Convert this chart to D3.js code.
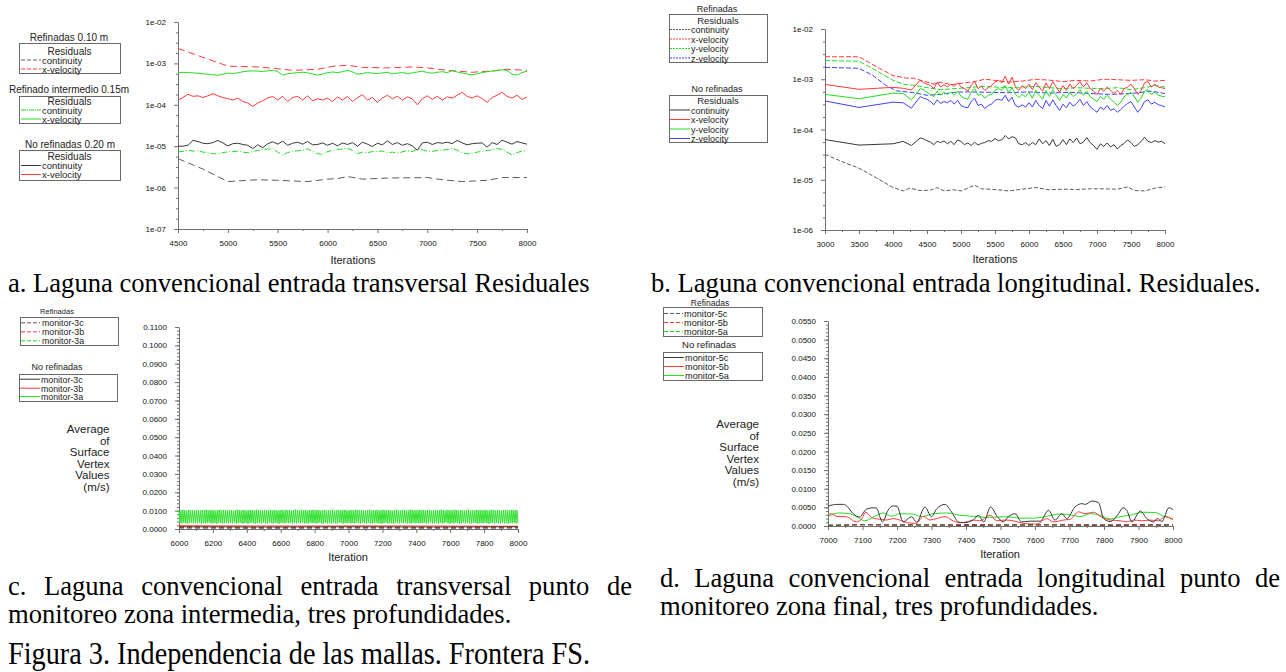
<!DOCTYPE html>
<html>
<head>
<meta charset="utf-8">
<script src="https://cdn.jsdelivr.net/npm/d3@7"></script>
<style>
  body { margin: 0; background: #fff; }
  svg { display: block; }
</style>
</head>
<body>
<svg width="1286" height="672"></svg>
<script>
// ---------------- data ----------------
// panel a : residuals, transversal inlet (log scale), sampled every 50 iterations from 4500
const aStart = 4500, aStep = 50;
const aContNoRef = [ // x1e-5
    1.00,1.00,1.05,1.38,1.30,1.18,1.15,1.22,1.38,1.20,
    1.02,1.15,1.18,1.10,1.05,0.88,1.08,0.92,1.15,1.28,
    1.12,1.32,1.05,1.18,1.25,1.12,1.30,1.08,1.10,1.20,
    1.05,1.18,1.02,1.20,1.10,1.22,1.00,1.25,1.12,0.98,
    1.18,1.08,1.35,1.10,1.22,1.05,1.15,1.02,0.80,1.20,
    1.25,1.10,1.22,1.18,1.25,1.15,1.38,1.20,1.08,1.15,
    1.18,1.20,0.95,1.22,1.10,1.40,1.25,1.12,1.30,1.20,
    1.12];
const aXvelNoRef = [ // x1e-4
    1.30,1.50,1.80,1.60,1.65,1.50,1.65,1.85,1.65,1.50,
    1.40,1.30,1.45,1.20,1.10,0.92,1.10,1.25,1.45,1.60,
    1.30,1.60,1.20,1.50,1.60,1.30,1.65,1.25,1.40,1.30,
    1.45,1.20,1.55,1.30,1.60,1.20,1.50,1.75,1.30,1.50,
    1.15,1.45,1.70,1.40,1.60,1.30,1.55,1.40,1.00,1.40,
    1.65,1.35,1.60,1.30,1.55,1.45,1.70,2.00,1.60,1.45,
    1.65,1.40,1.15,1.50,1.70,2.00,1.60,1.45,1.70,1.35,
    1.55];
const aContInt = [ // x1e-6
    7.3,7.5,8.0,7.6,7.8,7.2,7.0,6.6,6.5,7.0,
    7.3,7.4,7.6,7.2,7.0,7.5,7.9,8.4,8.5,8.7,
    7.2,6.1,7.0,7.6,7.7,8.0,8.6,7.5,6.6,6.3,
    7.4,7.9,8.3,8.6,8.9,7.9,6.6,7.2,7.0,7.4,
    7.5,7.6,6.9,7.2,6.8,7.3,7.8,7.4,8.6,8.2,
    7.6,7.5,7.9,8.0,8.3,8.8,8.0,7.0,6.5,6.7,
    7.2,7.5,7.9,8.2,8.7,8.4,7.2,6.1,7.0,7.6,
    8.0];
const aXvelInt = [ // x1e-4
    6.0,6.1,6.0,5.9,5.8,5.6,5.5,5.3,5.2,5.5,
    5.8,5.7,5.9,6.3,6.5,6.6,6.5,6.4,6.6,6.8,
    6.4,5.2,5.6,5.8,6.0,6.1,5.9,5.6,5.2,5.5,
    6.0,6.2,6.0,6.3,6.8,6.2,5.5,5.7,6.0,5.8,
    5.7,5.9,6.1,5.6,5.8,6.0,5.7,5.9,6.2,6.5,
    6.0,5.8,6.1,6.3,6.0,6.7,6.2,5.9,5.5,5.3,
    5.6,6.0,6.3,6.5,6.7,7.0,6.8,5.5,5.2,6.0,
    6.5];
const aContRef = [[4500,5.0e-6],[4750,2.8e-6],[5000,1.4e-6],[5300,1.55e-6],[5500,1.5e-6],[5800,1.4e-6],
    [6000,1.6e-6],[6100,1.65e-6],[6200,1.85e-6],[6350,1.6e-6],[6600,1.7e-6],[7000,1.75e-6],
    [7150,1.55e-6],[7350,1.4e-6],[7600,1.5e-6],[7750,1.75e-6],[8000,1.75e-6]];
const aXvelRef = [[4500,2.3e-3],[4750,1.4e-3],[5000,8.6e-4],[5300,8.2e-4],[5450,7.6e-4],[5650,6.8e-4],
    [5900,7.2e-4],[6050,8.5e-4],[6200,9.0e-4],[6350,8.0e-4],[6600,7.8e-4],[6850,8.2e-4],[7000,7.8e-4],
    [7200,6.8e-4],[7450,6.1e-4],[7650,6.6e-4],[7800,7.2e-4],[8000,6.8e-4]];

// panel b : residuals, longitudinal inlet (log scale)
const bItersEarly = [3000, 3500, 4000, 4150, 4270];
const bLateStart = 4400, bLateStep = 50;
const bXvelNoRef = [ // x1e-4
    7.9,6.3,6.9,6.6,6.1,
    9.5,8.5,8.0,7.5,6.5,8.8,7.0,7.8,7.0,8.0,
    7.2,8.5,7.0,6.5,5.8,7.5,9.0,6.5,7.2,6.0,
    6.8,7.5,8.8,9.5,8.5,11.5,8.0,11.0,7.0,6.0,
    7.5,6.5,8.0,6.2,8.5,7.0,5.8,8.5,6.5,9.0,
    7.0,5.5,7.5,6.0,8.0,6.5,7.5,9.0,7.0,8.5,
    6.5,5.8,5.0,6.5,5.8,7.0,6.0,5.2,6.0,5.0,
    6.5,7.0,8.0,6.5,5.0,6.0,8.5,9.0,7.0,8.0,
    7.0,6.8,6.5];
const bYvelNoRef = [ // x1e-4
    5.0,4.1,5.3,5.2,3.9,
    6.5,6.2,5.5,5.0,4.5,5.8,4.8,5.5,5.0,5.6,
    4.8,5.8,4.6,4.2,4.0,5.5,6.5,4.8,5.0,4.2,
    4.8,5.0,6.0,6.5,6.0,7.5,5.5,6.8,5.0,4.3,
    5.0,4.5,5.5,4.2,6.0,4.8,4.0,6.0,4.5,6.2,
    4.8,3.8,5.0,4.2,5.5,4.5,5.2,6.2,4.8,5.8,
    4.5,4.0,3.6,4.5,4.0,4.8,4.0,3.5,3.0,3.5,
    4.5,5.0,5.5,4.5,3.5,4.2,5.8,6.2,5.0,5.5,
    4.8,4.6,4.5];
const bZvelNoRef = [ // x1e-4
    3.7,2.75,3.5,3.4,2.65,
    4.5,4.2,4.0,3.6,3.1,3.9,3.3,3.6,3.4,3.8,
    3.2,3.8,3.0,2.8,2.7,3.6,4.2,3.0,3.2,2.6,
    3.0,3.2,3.8,4.0,3.8,4.8,3.6,4.4,3.0,2.8,
    3.1,2.8,3.4,2.8,3.8,3.0,2.6,3.8,2.9,3.9,
    3.0,2.4,3.2,2.7,3.5,2.9,3.3,4.0,3.0,3.6,
    2.8,2.5,2.2,2.8,2.5,3.0,2.4,2.6,2.2,2.5,
    2.9,3.3,3.6,2.8,2.2,2.7,3.6,3.9,3.2,3.5,
    3.1,3.0,2.8];
const bContNoRef = [ // x1e-5
    6.3,4.9,5.2,5.8,4.8,
    6.8,6.5,6.0,5.6,5.0,5.8,5.5,5.9,5.2,5.8,
    5.0,6.2,5.8,5.0,5.4,4.8,5.6,4.9,5.3,5.5,
    6.0,5.8,6.6,6.0,6.2,7.6,6.5,7.2,6.8,5.2,
    5.0,5.5,4.8,5.5,5.0,6.5,5.2,6.0,4.8,6.4,
    4.6,5.0,6.3,5.0,6.5,5.5,6.8,5.2,5.6,6.9,
    5.5,4.8,4.0,5.2,4.6,5.4,4.5,5.0,4.1,4.8,
    5.3,6.2,5.5,4.6,5.0,5.8,7.0,5.8,5.5,6.0,
    5.6,5.8,5.2];
const bContRef = [[3000,3.2e-5],[3250,2.3e-5],[3500,1.7e-5],[3750,1.1e-5],[4000,7.0e-6],[4150,6.0e-6],
    [4250,6.8e-6],[4400,6.1e-6],[4550,6.2e-6],[4650,7.0e-6],[4750,6.0e-6],[4900,6.3e-6],[5000,6.0e-6],
    [5100,6.8e-6],[5200,7.8e-6],[5300,6.6e-6],[5500,6.4e-6],[5700,6.0e-6],[5900,6.5e-6],[6100,7.0e-6],
    [6300,6.3e-6],[6500,6.5e-6],[6700,6.4e-6],[6900,6.6e-6],[7100,6.6e-6],[7300,6.5e-6],[7450,7.2e-6],
    [7550,6.1e-6],[7700,6.0e-6],[7850,6.8e-6],[8000,7.2e-6]];
const bXvelRef = [[3000,2.8e-3],[3500,2.8e-3],[3750,1.8e-3],[4000,1.18e-3],[4200,1.05e-3],[4300,1.05e-3],
    [4450,9.2e-4],[4600,8.0e-4],[4700,8.8e-4],[4850,7.8e-4],[5000,8.3e-4],[5200,9.0e-4],[5350,1.0e-3],
    [5500,9.5e-4],[5700,8.8e-4],[5900,9.2e-4],[6100,1.0e-3],[6300,9.6e-4],[6500,9.0e-4],[6700,9.5e-4],
    [6900,9.2e-4],[7100,1.0e-3],[7300,9.8e-4],[7500,9.5e-4],[7700,9.8e-4],[7850,9.2e-4],[8000,9.5e-4]];
const bYvelRef = [[3000,2.35e-3],[3500,2.28e-3],[3750,1.5e-3],[4000,9.5e-4],[4150,8.0e-4],[4300,7.6e-4],
    [4500,6.8e-4],[4700,6.2e-4],[4900,6.5e-4],[5100,6.8e-4],[5300,7.2e-4],[5500,7.0e-4],[5700,6.8e-4],
    [5900,7.0e-4],[6100,7.2e-4],[6300,6.8e-4],[6500,6.5e-4],[6700,6.8e-4],[6900,6.6e-4],[7100,6.5e-4],
    [7300,6.8e-4],[7500,6.2e-4],[7700,6.8e-4],[7850,7.5e-4],[8000,7.0e-4]];
const bZvelRef = [[3000,1.73e-3],[3500,1.65e-3],[3700,1.2e-3],[3900,7.5e-4],[4050,5.9e-4],[4300,5.4e-4],
    [4500,4.8e-4],[4700,5.0e-4],[4900,5.5e-4],[5100,5.6e-4],[5400,5.5e-4],[5700,5.4e-4],[6000,5.6e-4],
    [6300,5.3e-4],[6600,5.5e-4],[6900,5.2e-4],[7200,5.0e-4],[7500,5.2e-4],[7800,5.8e-4],[8000,5.2e-4]];

// panel c : monitors, intermediate zone (m/s); monitor-3a (no refinadas) oscillates peak/trough
const cPeaks3a = [ // x1e-4
    103,101,104,102,100,105,103,101,104,102,103,100,104,102,105,101,103,104,102,100,103,105,101,104,102,
    101,104,103,100,102,105,103,101,104,102,100,103,104,102,101,105,103,100,102,104,103,101,105,102,104,
    102,100,103,105,101,104,102,103,100,104,106,103,101,105,102,104,100,103,102,105,101,104,103,100,102,
    104,101,103,102,105,100,103,104,101,102,105,103,100,104,102,101,105,103,102,104,100,103,101,105,102,
    103,101,104,100,102,105,103,101,104,102,100,103,105,102,101,104,103,100,102,105,104,101,103,102,104,
    102,104,101,103,105,100,102,104,103,101,105,102,100,104,103,101,102,105,103,100,104,102,101,103,105,
    101,103,100,104,102,105,101,103,104,100,102,105,103,101,104,102,100,103,105,102,101,104,103,102,103];
const cTroughs3a = [ // x1e-4
    32,30,34,31,29,33,35,30,32,31,34,29,33,30,32,35,31,30,33,29,34,32,30,31,33,
    30,33,31,35,29,32,34,30,31,33,29,32,35,31,30,34,32,29,33,31,30,35,32,30,34,
    31,29,33,32,30,35,31,34,29,32,30,33,31,36,30,32,29,34,31,33,30,32,35,29,31,
    33,30,32,29,34,31,30,35,32,29,33,31,34,30,32,29,35,31,30,33,32,29,34,31,30,
    32,34,30,31,29,33,35,30,32,31,29,34,32,30,33,31,35,29,32,30,34,31,33,30,32,
    31,33,29,32,35,30,31,34,29,33,30,32,36,31,29,33,30,34,32,29,31,35,30,33,31,
    30,32,34,29,31,33,30,35,31,29,32,34,30,33,29,31,35,30,32,29,33,31,34,30,32];
const c3bNoRef = [[6000,0.0018],[6300,0.0017],[6700,0.0016],[7100,0.0017],[7500,0.0016],[8000,0.0015]];
const c3cNoRef = [[6000,0.0012],[6500,0.0011],[7000,0.0012],[7500,0.0011],[8000,0.0012]];
const c3cRef = [[6000,0.0005],[6500,0.0004],[7000,0.0005],[7500,0.0004],[8000,0.0005]];
const c3bRef = [[6000,0.0011],[6400,0.0010],[6800,0.0009],[7200,0.0010],[7600,0.0009],[8000,0.0010]];
const c3aRef = [[6000,0.0008],[6600,0.0007],[7200,0.0008],[7800,0.0007],[8000,0.0008]];

// panel d : monitors, final zone (m/s)
const d5cNoRef = [[7000,0.0053],[7025,0.0058],[7045,0.0058],[7055,0.0053],[7073,0.0033],[7092,0.0024],
    [7111,0.0045],[7131,0.0049],[7140,0.0048],[7158,0.0011],[7174,0.0042],[7189,0.0054],[7200,0.0053],
    [7218,0.0011],[7242,0.0025],[7257,0.0010],[7281,0.0051],[7300,0.0025],[7315,0.0046],[7339,0.0058],
    [7358,0.0038],[7378,0.0011],[7393,0.0009],[7421,0.0016],[7436,0.0029],[7452,0.0011],[7471,0.0051],
    [7491,0.0025],[7508,0.0011],[7523,0.0025],[7542,0.0033],[7561,0.0011],[7586,0.0013],[7615,0.0013],
    [7639,0.0042],[7658,0.0016],[7678,0.0033],[7692,0.0020],[7716,0.0051],[7736,0.0060],[7746,0.0058],
    [7765,0.0067],[7784,0.0063],[7799,0.0020],[7818,0.0012],[7842,0.0033],[7855,0.0049],[7866,0.0042],
    [7881,0.0011],[7905,0.0040],[7924,0.0020],[7944,0.0011],[7954,0.0020],[7968,0.0012],[7988,0.0049],
    [8000,0.0044]];
const d5bNoRef = [[7000,0.0029],[7010,0.0033],[7024,0.0026],[7053,0.0025],[7082,0.0011],[7097,0.0018],
    [7109,0.0037],[7126,0.0023],[7150,0.0018],[7170,0.0016],[7189,0.0020],[7208,0.0016],[7228,0.0009],
    [7256,0.0007],[7276,0.0026],[7295,0.0016],[7315,0.0020],[7339,0.0025],[7358,0.0016],[7382,0.0009],
    [7402,0.0011],[7421,0.0016],[7440,0.0014],[7470,0.0029],[7489,0.0014],[7513,0.0016],[7537,0.0014],
    [7566,0.0007],[7605,0.0005],[7634,0.0020],[7653,0.0011],[7682,0.0016],[7702,0.0018],[7726,0.0038],
    [7745,0.0033],[7770,0.0037],[7789,0.0026],[7818,0.0016],[7847,0.0014],[7866,0.0011],[7886,0.0016],
    [7910,0.0014],[7934,0.0016],[7958,0.0014],[7978,0.0026],[8000,0.0016]];
const d5aNoRef = [[7000,0.0026],[7034,0.0035],[7063,0.0033],[7092,0.0020],[7106,0.0014],[7136,0.0026],
    [7160,0.0035],[7184,0.0026],[7208,0.0033],[7247,0.0032],[7271,0.0025],[7305,0.0033],[7344,0.0035],
    [7382,0.0029],[7421,0.0026],[7470,0.0023],[7518,0.0025],[7557,0.0021],[7595,0.0021],[7634,0.0026],
    [7673,0.0032],[7707,0.0029],[7731,0.0025],[7760,0.0033],[7789,0.0029],[7818,0.0019],[7847,0.0025],
    [7876,0.0029],[7915,0.0037],[7949,0.0036],[7973,0.0026],[8000,0.0020]];
const d5cRef = [[7000,0.0002],[7100,0.0004],[7200,0.0003],[7300,0.0002],[7400,0.0004],[7500,0.0003],
    [7600,0.0002],[7700,0.0004],[7800,0.0003],[7900,0.0004],[8000,0.0003]];
const d5bRef = [[7000,0.0001],[7100,0.0003],[7200,0.0002],[7300,0.0003],[7400,0.0001],[7500,0.0002],
    [7600,0.0003],[7700,0.0002],[7800,0.0001],[7900,0.0002],[8000,0.0002]];
const d5aRef = [[7000,0.0003],[7200,0.0004],[7400,0.0003],[7600,0.0004],[7800,0.0003],[8000,0.0004]];

// ticks and labels
const aXTicks = [4500, 5000, 5500, 6000, 6500, 7000, 7500, 8000];
const aYTicks = [1e-7, 1e-6, 1e-5, 1e-4, 1e-3, 1e-2];
const aYLabels = ['1e-07', '1e-06', '1e-05', '1e-04', '1e-03', '1e-02'];
const bXTicks = [3000, 3500, 4000, 4500, 5000, 5500, 6000, 6500, 7000, 7500, 8000];
const bYTicks = [1e-6, 1e-5, 1e-4, 1e-3, 1e-2];
const bYLabels = ['1e-06', '1e-05', '1e-04', '1e-03', '1e-02'];
const cXTicks = [6000, 6200, 6400, 6600, 6800, 7000, 7200, 7400, 7600, 7800, 8000];
const cYTicks = [0, 0.01, 0.02, 0.03, 0.04, 0.05, 0.06, 0.07, 0.08, 0.09, 0.10, 0.11];
const dXTicks = [7000, 7100, 7200, 7300, 7400, 7500, 7600, 7700, 7800, 7900, 8000];
const dYTicks = [0, 0.005, 0.01, 0.015, 0.02, 0.025, 0.03, 0.035, 0.04, 0.045, 0.05, 0.055];

const residualLabels2 = ['continuity', 'x-velocity'];
const residualLabels4 = ['continuity', 'x-velocity', 'y-velocity', 'z-velocity'];
const monitorLabelsC = ['monitor-3c', 'monitor-3b', 'monitor-3a'];
const monitorLabelsD = ['monitor-5c', 'monitor-5b', 'monitor-5a'];
const yTitleLines = ['Average', 'of', 'Surface', 'Vertex', 'Values', '(m/s)'];

const captionA = 'a. Laguna convencional entrada transversal Residuales';
const captionB = 'b. Laguna convencional entrada longitudinal. Residuales.';
const captionC = ['c. Laguna convencional entrada transversal punto de', 'monitoreo zona intermedia, tres profundidades.'];
const captionD = ['d. Laguna convencional entrada longitudinal punto de', 'monitoreo zona final, tres profundidades.'];
const figTitle = 'Figura 3. Independencia de las mallas. Frontera FS.';

// ---------------- drawing ----------------
const FONT = '"Liberation Sans", Arial, sans-serif';
const SERIF = '"Liberation Serif", "Times New Roman", serif';
const col = { red: '#ff3a3a', green: '#22dd22', blue: '#4040ff', dark: '#383838', gray: '#5c5c5c', axis: '#707070' };

let svg = d3.select('svg');
svg.append('rect').attr('width', 1286).attr('height', 672).attr('fill', '#fff');

function stepped(vals, start, step, unit) {
    return vals.map((v, i) => [start + i * step, v * unit]);
}
function zipped(iters, vals, unit) {
    return vals.map((v, i) => [iters[i], v * unit]);
}

function styleAxis(g, fs) {
    g.attr('font-family', FONT).attr('font-size', fs);
    g.selectAll('line').attr('stroke', col.axis);
    g.select('.domain').attr('stroke', col.axis);
    g.selectAll('text').attr('fill', '#111');
}

function drawAxes(x, y, o) {
    let yb = y.range()[0], xl = x.range()[0];
    // minor ticks
    let gxm = svg.append('g').attr('transform', 'translate(0,' + yb + ')')
        .call(d3.axisBottom(x).tickValues(o.xMinor).tickSize(2).tickFormat(''));
    gxm.select('.domain').remove();
    styleAxis(gxm, 8);
    let gym = svg.append('g').attr('transform', 'translate(' + xl + ',0)')
        .call(d3.axisLeft(y).tickValues(o.yMinor).tickSize(2).tickFormat(''));
    gym.select('.domain').remove();
    styleAxis(gym, 8);
    // major ticks
    let gx = svg.append('g').attr('transform', 'translate(0,' + yb + ')')
        .call(d3.axisBottom(x).tickValues(o.xTicks).tickSize(4).tickSizeOuter(0).tickPadding(7).tickFormat(d3.format('d')));
    styleAxis(gx, 8);
    let gy = svg.append('g').attr('transform', 'translate(' + xl + ',0)')
        .call(d3.axisLeft(y).tickValues(o.yTicks).tickSize(4).tickSizeOuter(0).tickPadding(8).tickFormat(o.yFmt));
    styleAxis(gy, 8);
    // x title
    svg.append('text')
        .attr('x', o.titleX).attr('y', o.titleY)
        .attr('text-anchor', 'middle')
        .attr('font-family', FONT).attr('font-size', 11).attr('fill', '#222')
        .text(o.title);
}

function plot(x, y, pts, color, dash, curve) {
    svg.append('path')
        .datum(pts)
        .attr('fill', 'none')
        .attr('stroke', color)
        .attr('stroke-width', 1)
        .attr('stroke-dasharray', dash || null)
        .attr('d', d3.line().x((d) => x(d[0])).y((d) => y(d[1])).curve(curve || d3.curveLinear));
}

function legend(b) {
    if (b.title) {
        svg.append('text')
            .attr('x', b.titleX).attr('y', b.titleY).attr('text-anchor', 'middle')
            .attr('font-family', FONT).attr('font-size', b.titleSize).attr('fill', '#222')
            .text(b.title);
    }
    svg.append('rect')
        .attr('x', b.x0 + 0.5).attr('y', b.y0 + 0.5)
        .attr('width', b.x1 - b.x0).attr('height', b.y1 - b.y0)
        .attr('fill', 'none').attr('stroke', '#6a6a6a');
    if (b.headerY) {
        svg.append('text')
            .attr('x', (b.x0 + b.x1) / 2).attr('y', b.headerY).attr('text-anchor', 'middle')
            .attr('font-family', FONT).attr('font-size', b.fs + 0.5).attr('fill', '#222')
            .text('Residuals');
    }
    b.rows.forEach((r) => {
        svg.append('line')
            .attr('x1', b.lx0).attr('x2', b.lx1)
            .attr('y1', r.y - 3.5).attr('y2', r.y - 3.5)
            .attr('stroke', r.color).attr('stroke-width', 1)
            .attr('stroke-dasharray', r.dash || null);
        svg.append('text')
            .attr('x', b.tx).attr('y', r.y)
            .attr('font-family', FONT).attr('font-size', b.fs).attr('fill', '#222')
            .text(r.label);
    });
}

function yTitle(xr, ys) {
    yTitleLines.forEach((t, i) => {
        svg.append('text')
            .attr('x', xr).attr('y', ys[i])
            .attr('text-anchor', 'end')
            .attr('font-family', FONT).attr('font-size', 11.5).attr('fill', '#222')
            .text(t);
    });
}

function logMinor(lo, hi) {
    let out = [];
    for (let e = lo; e < hi; e++) {
        [0.25, 0.5, 0.75].forEach((q) => out.push(Math.pow(10, e + q)));
    }
    return out;
}

// ---------- panel a ----------
let xA = d3.scaleLinear().domain([4500, 8000]).range([178, 527]);
let yA = d3.scaleLog().domain([1e-7, 1e-2]).range([229, 22]);
drawAxes(xA, yA, {
    xTicks: aXTicks, xMinor: d3.range(4750, 8000, 500),
    yTicks: aYTicks, yMinor: logMinor(-7, -2),
    yFmt: (d, i) => aYLabels[i],
    title: 'Iterations', titleX: 353, titleY: 264
});
plot(xA, yA, aContRef, col.gray, '7,4');
plot(xA, yA, aXvelRef, col.red, '7,4');
plot(xA, yA, stepped(aXvelInt, aStart, aStep, 1e-4), col.green);
plot(xA, yA, stepped(aContInt, aStart, aStep, 1e-6), col.green, '6,2,1,2');
plot(xA, yA, stepped(aXvelNoRef, aStart, aStep, 1e-4), col.red);
plot(xA, yA, stepped(aContNoRef, aStart, aStep, 1e-5), col.dark);

legend({ title: 'Refinadas 0.10 m', titleX: 69, titleY: 40.5, titleSize: 10,
    x0: 19, x1: 120, y0: 43, y1: 73, headerY: 54.5, lx0: 21, lx1: 41, tx: 42, fs: 9.5,
    rows: [{ label: residualLabels2[0], color: col.gray, dash: '4,2', y: 63.5 },
           { label: residualLabels2[1], color: col.red, dash: '4,2', y: 72.5 }] });
legend({ title: 'Refinado intermedio 0.15m', titleX: 69, titleY: 92.5, titleSize: 10,
    x0: 19, x1: 120, y0: 96, y1: 123, headerY: 104.5, lx0: 21, lx1: 41, tx: 42, fs: 9.5,
    rows: [{ label: residualLabels2[0], color: col.green, dash: '5,1,1,1', y: 113.5 },
           { label: residualLabels2[1], color: col.green, y: 122.5 }] });
legend({ title: 'No refinadas 0.20 m', titleX: 70, titleY: 148, titleSize: 10,
    x0: 19, x1: 120, y0: 150, y1: 180, headerY: 160, lx0: 21, lx1: 41, tx: 42, fs: 9.5,
    rows: [{ label: residualLabels2[0], color: col.dark, y: 169 },
           { label: residualLabels2[1], color: col.red, y: 178 }] });

// ---------- panel b ----------
let xB = d3.scaleLinear().domain([3000, 8000]).range([825, 1165]);
let yB = d3.scaleLog().domain([1e-6, 1e-2]).range([230, 29]);
let bIters = bItersEarly.concat(d3.range(bLateStart, 8001, bLateStep));
drawAxes(xB, yB, {
    xTicks: bXTicks, xMinor: d3.range(3250, 8000, 500),
    yTicks: bYTicks, yMinor: logMinor(-6, -2),
    yFmt: (d, i) => bYLabels[i],
    title: 'Iterations', titleX: 995, titleY: 263
});
plot(xB, yB, bContRef, col.gray, '4,2');
plot(xB, yB, bXvelRef, col.red, '5,2');
plot(xB, yB, bYvelRef, col.green, '5,2');
plot(xB, yB, bZvelRef, col.blue, '5,2');
plot(xB, yB, zipped(bIters, bXvelNoRef, 1e-4), col.red);
plot(xB, yB, zipped(bIters, bYvelNoRef, 1e-4), col.green);
plot(xB, yB, zipped(bIters, bZvelNoRef, 1e-4), col.blue);
plot(xB, yB, zipped(bIters, bContNoRef, 1e-5), col.dark);

let bColors = [col.gray, col.red, col.green, col.blue];
legend({ title: 'Refinadas', titleX: 717, titleY: 11.5, titleSize: 9,
    x0: 669, x1: 767, y0: 14, y1: 62, headerY: 23.5, lx0: 670, lx1: 690, tx: 691, fs: 9,
    rows: residualLabels4.map((l, i) => ({ label: l, color: bColors[i], dash: '2,1', y: [33, 42.5, 52, 61.5][i] })) });
let bColorsSolid = [col.dark, col.red, col.green, col.blue];
legend({ title: 'No refinadas', titleX: 717, titleY: 91.5, titleSize: 9,
    x0: 669, x1: 767, y0: 95, y1: 142, headerY: 104, lx0: 670, lx1: 690, tx: 691, fs: 9,
    rows: residualLabels4.map((l, i) => ({ label: l, color: bColorsSolid[i], y: [113.5, 123, 132.5, 142][i] })) });

// ---------- panel c ----------
let xC = d3.scaleLinear().domain([6000, 8000]).range([179, 518]);
let yC = d3.scaleLinear().domain([0, 0.11]).range([529, 327]);
drawAxes(xC, yC, {
    xTicks: cXTicks, xMinor: d3.range(6100, 8000, 200),
    yTicks: cYTicks, yMinor: d3.range(0, 0.1101, 0.002),
    yFmt: d3.format('.4f'),
    title: 'Iteration', titleX: 348, titleY: 561
});
let osc = [];
cPeaks3a.forEach((p, i) => { osc.push(p * 1e-4); osc.push(cTroughs3a[i] * 1e-4); });
let oscStep = 2000 / (osc.length - 1);
plot(xC, yC, osc.map((v, i) => [6000 + i * oscStep, v]), '#33e033');
plot(xC, yC, c3aRef, col.green, '5,3');
plot(xC, yC, c3bNoRef, col.red);
plot(xC, yC, c3cNoRef, col.dark);
plot(xC, yC, c3bRef, '#c01010', '5,3');
plot(xC, yC, c3cRef, col.gray, '5,3');

let cColors = [col.gray, col.red, col.green];
legend({ title: 'Refinadas', titleX: 57, titleY: 313.5, titleSize: 7.5,
    x0: 20, x1: 118, y0: 317, y1: 345, lx0: 21, lx1: 40, tx: 42, fs: 8.8,
    rows: monitorLabelsC.map((l, i) => ({ label: l, color: cColors[i], dash: '4,2', y: [326.3, 335.3, 344.3][i] })) });
let cColorsSolid = [col.dark, col.red, col.green];
legend({ title: 'No refinadas', titleX: 57, titleY: 369.5, titleSize: 9,
    x0: 19, x1: 117, y0: 374, y1: 401, lx0: 20, lx1: 40, tx: 41, fs: 8.8,
    rows: monitorLabelsC.map((l, i) => ({ label: l, color: cColorsSolid[i], y: [382.7, 391.7, 400][i] })) });
yTitle(109.5, [433, 444.5, 456, 467.5, 479, 490.5]);

// ---------- panel d ----------
let xD = d3.scaleLinear().domain([7000, 8000]).range([828, 1173]);
let yD = d3.scaleLinear().domain([0, 0.055]).range([526, 321]);
drawAxes(xD, yD, {
    xTicks: dXTicks, xMinor: d3.range(7050, 8000, 100),
    yTicks: dYTicks, yMinor: d3.range(0, 0.0551, 0.001),
    yFmt: d3.format('.4f'),
    title: 'Iteration', titleX: 1000, titleY: 558
});
plot(xD, yD, d5aNoRef, col.green, null, d3.curveMonotoneX);
plot(xD, yD, d5bNoRef, col.red, null, d3.curveMonotoneX);
plot(xD, yD, d5cNoRef, col.dark, null, d3.curveMonotoneX);
plot(xD, yD, d5aRef, col.green, '5,3');
plot(xD, yD, d5bRef, '#c01010', '5,3');
plot(xD, yD, d5cRef, col.gray, '5,3');

legend({ title: 'Refinadas', titleX: 710, titleY: 305.5, titleSize: 8.5,
    x0: 663, x1: 762, y0: 307, y1: 336, lx0: 664, lx1: 683, tx: 684, fs: 9.2,
    rows: monitorLabelsD.map((l, i) => ({ label: l, color: cColors[i], dash: '4,2', y: [317, 326, 335][i] })) });
legend({ title: 'No refinadas', titleX: 709, titleY: 347.5, titleSize: 9.5,
    x0: 663, x1: 762, y0: 352, y1: 380, lx0: 664, lx1: 684, tx: 685, fs: 9.2,
    rows: monitorLabelsD.map((l, i) => ({ label: l, color: cColorsSolid[i], y: [361, 370, 379][i] })) });
yTitle(759, [428, 439.5, 451, 462.5, 474, 486]);

// ---------- captions ----------
function measure(text, size) {
    let t = svg.append('text').attr('font-family', SERIF).attr('font-size', size).text(text);
    let w = t.node().getComputedTextLength();
    t.remove();
    return w;
}
let capSize = 20 * 582 / measure(captionA, 20);
let figSize = capSize * 1.22;

function caption(text, x, y, size, len) {
    let t = svg.append('text')
        .attr('x', x).attr('y', y)
        .attr('font-family', SERIF).attr('font-size', size).attr('fill', '#000')
        .text(text);
    if (len) t.attr('textLength', len).attr('lengthAdjust', 'spacingAndGlyphs');
}
function justified(text, x0, x1, y, size) {
    let words = text.split(' ');
    let widths = words.map((w) => measure(w, size));
    let gap = (x1 - x0 - d3.sum(widths)) / (words.length - 1);
    let g = svg.append('text').attr('font-family', SERIF).attr('font-size', size).attr('fill', '#000');
    let cx = x0;
    words.forEach((w, i) => {
        g.append('tspan').attr('x', cx).attr('y', y).text(w);
        cx += widths[i] + gap;
    });
}

caption(captionA, 8, 292, capSize);
caption(captionB, 651, 292, capSize);
justified(captionC[0], 8, 632, 595, capSize);
caption(captionC[1], 8, 623, capSize);
justified(captionD[0], 660, 1280, 587, capSize);
caption(captionD[1], 660, 615, capSize);
caption(figTitle, 8, 664, figSize, 582);
</script>
</body>
</html>
